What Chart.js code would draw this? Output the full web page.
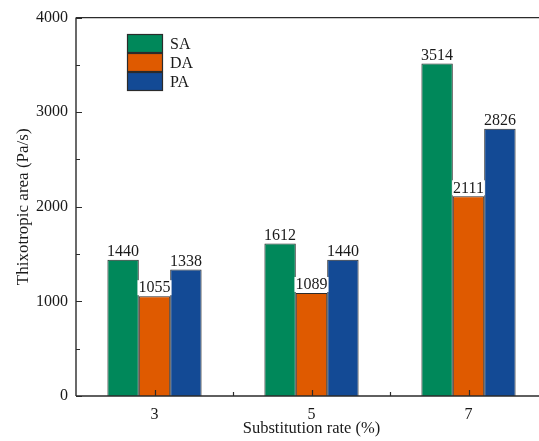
<!DOCTYPE html>
<html>
<head>
<meta charset="utf-8">
<script src="https://cdn.jsdelivr.net/npm/chart.js@4.4.1/dist/chart.umd.min.js"></script>
<style>
  html, body { margin: 0; padding: 0; background: #ffffff; overflow: hidden; }
  #wrap { width: 539px; height: 441px; overflow: hidden; }
</style>
</head>
<body>
<div id="wrap"><canvas id="c" width="560" height="441"></canvas></div>
<script>
// Substitution rate categories (%)
const rates = ['3', '5', '7'];
// Thixotropic area (Pa/s) for each admixture
const saValues = [1440, 1612, 3514];
const daValues = [1055, 1089, 2111];
const paValues = [1338, 1440, 2826];
const seriesNames = ['SA', 'DA', 'PA'];
const yTicks = [0, 1000, 2000, 3000, 4000];

const serif = "'Liberation Serif', 'Times New Roman', serif";
const colors = ['#00885a', '#df5a00', '#134a95'];

// Frame lines plus inward major/minor tick marks
const framePlugin = {
  id: 'frame',
  afterDraw(chart) {
    const { ctx, chartArea: a, scales: { x, y } } = chart;
    ctx.save();
    ctx.strokeStyle = '#2b2b2b';
    ctx.lineWidth = 1.4;
    ctx.beginPath();
    ctx.moveTo(a.left, a.top); ctx.lineTo(a.right, a.top);
    ctx.moveTo(a.left, a.bottom); ctx.lineTo(a.right, a.bottom);
    ctx.moveTo(a.left, a.top); ctx.lineTo(a.left, a.bottom);
    ctx.moveTo(a.right, a.top); ctx.lineTo(a.right, a.bottom);
    ctx.stroke();
    ctx.lineWidth = 1.2;
    ctx.beginPath();
    for (let v = 0; v <= 4000; v += 500) {
      const py = Math.round(y.getPixelForValue(v)) + 0.5;
      const len = v % 1000 === 0 ? 6 : 4;
      ctx.moveTo(a.left, py); ctx.lineTo(a.left + len, py);
    }
    for (let i = 0; i < rates.length; i++) {
      const px = Math.round(x.getPixelForValue(i)) + 0.5;
      ctx.moveTo(px, a.bottom); ctx.lineTo(px, a.bottom - 6);
      if (i < rates.length - 1) {
        const mx = Math.round(x.getPixelForValue(i + 0.5)) + 0.5;
        ctx.moveTo(mx, a.bottom); ctx.lineTo(mx, a.bottom - 4);
      }
    }
    ctx.stroke();
    ctx.restore();
  }
};

// Value labels above each bar, on a white backing
const valueLabelPlugin = {
  id: 'valueLabels',
  afterDatasetsDraw(chart) {
    const { ctx } = chart;
    ctx.save();
    ctx.font = '16px ' + serif;
    ctx.textAlign = 'center';
    ctx.textBaseline = 'bottom';
    chart.data.datasets.forEach((ds, di) => {
      const meta = chart.getDatasetMeta(di);
      meta.data.forEach((bar, i) => {
        const txt = String(ds.data[i]);
        const w = ctx.measureText(txt).width;
        const ty = bar.y - 1;
        ctx.fillStyle = '#ffffff';
        ctx.fillRect(bar.x - w / 2 - 1, ty - 15, w + 2, 15);
        ctx.fillStyle = '#1a1a1a';
        ctx.fillText(txt, bar.x, ty + 1);
      });
    });
    ctx.restore();
  }
};

// Stacked legend in the upper-left of the plot
const boxLegendPlugin = {
  id: 'boxLegend',
  afterDraw(chart) {
    const { ctx } = chart;
    const bx = 127, by = 34, bw = 36, bh = 19;
    ctx.save();
    ctx.font = '16px ' + serif;
    ctx.textAlign = 'left';
    ctx.textBaseline = 'middle';
    chart.data.datasets.forEach((ds, i) => {
      const top = by + i * bh;
      ctx.fillStyle = ds.backgroundColor;
      ctx.fillRect(bx, top, bw, bh);
      ctx.strokeStyle = '#2b2b2b';
      ctx.lineWidth = 1.2;
      ctx.strokeRect(bx + 0.5, top + 0.5, bw - 1, bh - 1);
      ctx.fillStyle = '#1a1a1a';
      ctx.fillText(ds.label, bx + bw + 7, top + bh / 2 + 1);
    });
    ctx.restore();
  }
};

const seriesValues = [saValues, daValues, paValues];

new Chart(document.getElementById('c'), {
  type: 'bar',
  data: {
    labels: rates,
    datasets: seriesNames.map((name, i) => ({
      label: name,
      data: seriesValues[i],
      backgroundColor: colors[i],
      borderColor: '#2b2b2b',
      borderWidth: 1,
      categoryPercentage: 0.6,
      barPercentage: 1.0
    }))
  },
  options: {
    responsive: false,
    animation: false,
    layout: { padding: { top: 17, right: 13, left: 0, bottom: 0 } },
    plugins: {
      legend: { display: false },
      tooltip: { enabled: false }
    },
    scales: {
      x: {
        grid: { display: false, drawTicks: false },
        border: { display: false },
        ticks: { color: '#1a1a1a', font: { family: serif, size: 16 }, padding: 9 },
        title: {
          display: true,
          text: 'Substitution rate (%)',
          color: '#1a1a1a',
          font: { family: serif, size: 16.5 },
          padding: { top: 0, bottom: 2 }
        },
        afterFit(scale) { scale.height = 45; }
      },
      y: {
        min: 0,
        max: 4000,
        afterBuildTicks(scale) { scale.ticks = yTicks.map(v => ({ value: v })); },
        grid: { display: false, drawTicks: false },
        border: { display: false },
        ticks: {
          color: '#1a1a1a',
          font: { family: serif, size: 16 },
          padding: 8,
          callback: v => String(v)
        },
        title: {
          display: true,
          text: 'Thixotropic area (Pa/s)',
          color: '#1a1a1a',
          font: { family: serif, size: 17 },
          padding: { top: 13, bottom: 0 }
        },
        afterFit(scale) { scale.width = 76; }
      }
    }
  },
  plugins: [framePlugin, valueLabelPlugin, boxLegendPlugin]
});
</script>
</body>
</html>
